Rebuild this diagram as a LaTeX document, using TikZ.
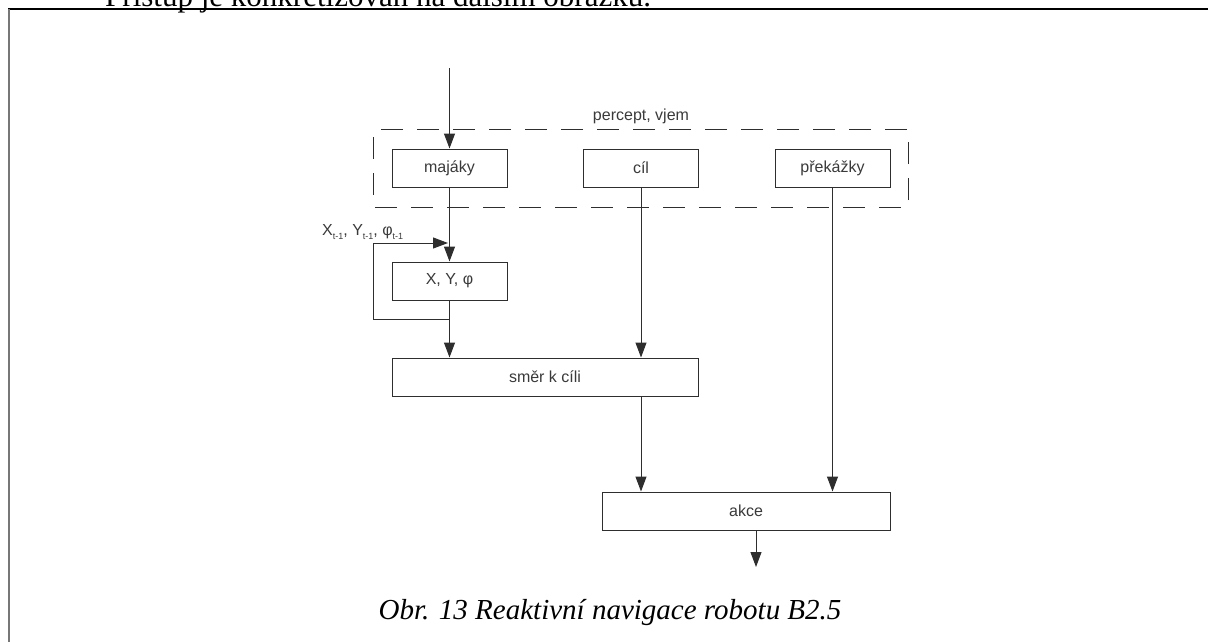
\documentclass[tikz,border=0pt]{standalone}
\usepackage{fontspec}
\setmainfont{Liberation Serif}
\newfontfamily\diagsans{Liberation Sans}
\usetikzlibrary{arrows.meta}
\definecolor{linecol}{HTML}{2E2E2E}
\definecolor{textcol}{HTML}{3A3A3A}
\definecolor{framecol}{HTML}{777777}
\newcommand{\sub}[1]{\raisebox{-4.5pt}{\fontsize{9}{9}\selectfont #1}}
\tikzset{
  blk/.style={draw=linecol, line width=1pt, fill=white, inner sep=0pt,
    minimum height=38pt, text=textcol, font=\diagsans\fontsize{16}{19}\selectfont},
  flow/.style={draw=linecol, line width=1pt, -{Triangle[length=15pt,width=11pt]}},
  wire/.style={draw=linecol, line width=1pt},
}
\begin{document}
\begin{tikzpicture}[x=1pt,y=-1pt]
  \useasboundingbox (0,0) rectangle (1208,641);
  \clip (0,0) rectangle (1208,641);

  % page text above the figure frame
  \node[anchor=base west, inner sep=0pt, font=\fontsize{31}{36}\selectfont] (para) at (105,6)
    {Přístup je konkretizován na dalším obrázku.};

  % figure frame
  \draw[black, line width=1.3pt] (8,9) -- (1210,9);
  \draw[framecol, line width=2pt] (9,9) -- (9,645);

  % perception group
  \draw[linecol, line width=1pt, dash pattern=on 22pt off 14pt, dash phase=-8pt]
    (373,129) rectangle (908,207);
  \node[anchor=base, inner sep=0pt, text=textcol, font=\diagsans\fontsize{16}{19}\selectfont]
    (grp) at (641,120) {percept, vjem};

  \node[blk, minimum width=115pt] (majaky) at (449.5,168) {majáky};
  \node[blk, minimum width=115pt] (cil)    at (641,168)   {cíl};
  \node[blk, minimum width=115pt] (prek)   at (832.5,168) {překážky};

  \node[blk, minimum width=115pt] (pose) at (449.5,281) {X, Y, φ};
  \node[blk, minimum width=306pt] (smer) at (545,377)   {směr k cíli};
  \node[blk, minimum width=288pt] (akce) at (746,511)   {akce};

  % free ends
  \coordinate (in)   at (449.5,68);
  \coordinate (tap)  at (449.5,319);
  \coordinate (lb)   at (373,319);
  \coordinate (lt)   at (373,243);
  \coordinate (lend) at (448,243);
  \coordinate (outs) at (756,530);
  \coordinate (out)  at (756,567);

  % connectors
  \draw[flow] (in) -- (majaky.north);
  \draw[flow] (majaky.south) -- (pose.north);
  \draw[flow] (pose.south) -- (pose.south |- smer.north);
  \draw[flow] (cil.south) -- (cil.south |- smer.north);
  \draw[flow] (cil.south |- smer.south) -- (cil.south |- akce.north);
  \draw[flow] (prek.south) -- (prek.south |- akce.north);
  \draw[flow] (outs) -- (out);

  % feedback of the previous pose
  \draw[flow] (tap) -- (lb) -- (lt) -- (lend);
  \node[anchor=base west, inner sep=0pt, text=textcol, font=\diagsans\fontsize{16}{19}\selectfont]
    (prev) at (322,235) {X\sub{t-1}, Y\sub{t-1}, φ\sub{t-1}};

  % caption
  \node[anchor=base, inner sep=0pt, font=\itshape\fontsize{29}{34}\selectfont] (cap) at (610,619)
    {Obr. 13 Reaktivní navigace robotu B2.5};
\end{tikzpicture}
\end{document}
